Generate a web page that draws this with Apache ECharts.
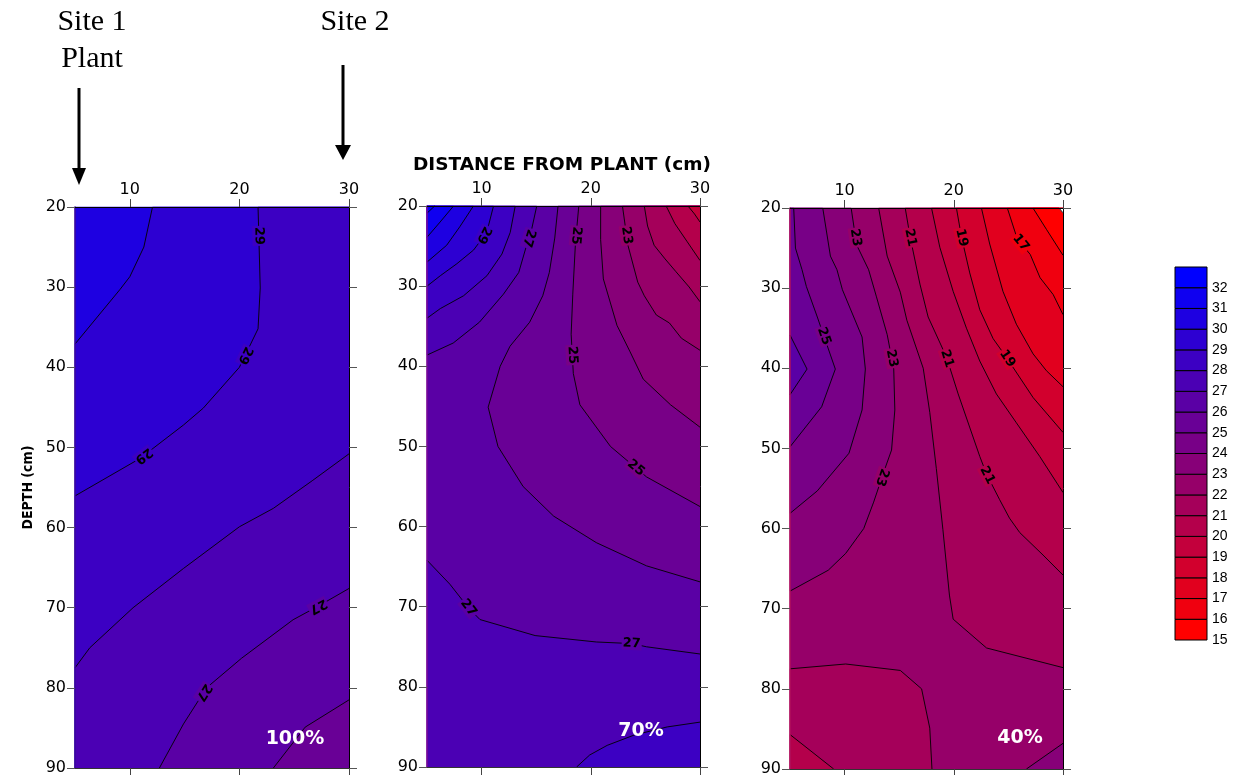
<!DOCTYPE html>
<html>
<head>
<meta charset="utf-8">
<script src="https://cdn.jsdelivr.net/npm/echarts@6/dist/echarts.min.js"></script>
<style>
  html, body { margin: 0; padding: 0; background: #fff; }
  #chart { width: 1239px; height: 775px; }
</style>
</head>
<body>
<div id="chart"></div>
<script>
// ---- axis extents and ticks ----
const DIST_RANGE = [5, 30];          // distance from plant, cm
const DEPTH_RANGE = [20, 90];        // depth, cm
const DIST_TICKS = [10, 20, 30];
const DEPTH_TICKS = [20, 30, 40, 50, 60, 70, 80, 90];
const SCALE_LEVELS = [15, 16, 17, 18, 19, 20, 21, 22, 23, 24, 25, 26, 27, 28, 29, 30, 31, 32];
const PANEL_TAGS = ['100%', '70%', '40%'];

// ---- contour polylines, [distance, depth] ----
// 100 %
const P1_C30 = [[12.07, 20], [11.28, 25], [10, 28.7], [9.1, 30.3], [5, 37.1]];
const P1_C29 = [[21.7, 20], [21.8, 25], [21.9, 30.1], [21.7, 35.2], [20.0, 40.0], [16.7, 45.1], [14.9, 47.2], [10.9, 51.4], [5, 56.05]];
const P1_C28 = [[30, 50.8], [26.7, 54.1], [23.1, 57.6], [20.0, 59.9], [14.9, 65.1], [10.3, 70.0], [6.35, 75.0], [5, 77.5]];
const P1_C27 = [[30, 67.6], [27.2, 69.8], [24.9, 71.5], [20.2, 76.3], [17.0, 80.0], [14.9, 84.5], [12.7, 90]];
const P1_C26 = [[30, 81.5], [26.0, 84.9], [23.1, 90]];
// 70 %
const P2_C32 = [[5.7, 20], [5, 20.9]];
const P2_C31 = [[7.43, 20], [6.2, 22.0], [5, 23.9]];
const P2_C30 = [[9.25, 20], [8.0, 22.6], [6.8, 24.9], [5, 27.0]];
const P2_C29 = [[11.09, 20], [10.64, 22.4], [10.03, 24.1], [9.26, 25.5], [7.74, 27.2], [6.22, 28.7], [5, 30.0]];
const P2_C28 = [[13.08, 20], [12.62, 23.3], [11.86, 26.0], [10.49, 28.7], [8.35, 31.2], [6.22, 32.8], [5, 34.0]];
const P2_C27 = [[15.05, 20], [14.6, 22.8], [14.1, 25], [13.4, 28.3], [12.0, 31], [9.8, 34.5], [7.4, 37.1], [5, 38.6]];
const P2_C26 = [[17.0, 20], [16.7, 24], [16.2, 28.3], [15.6, 31.2], [14.4, 34.5], [12.6, 37.5], [11.7, 40], [10.6, 45.1], [11.5, 50], [13.8, 55], [16.6, 58.7], [20.5, 62], [25.1, 64.9], [30, 66.9]];
const P2_C25 = [[18.9, 20], [18.6, 24.5], [18.35, 31], [18.2, 36], [18.4, 40.9], [19.0, 44.8], [21.8, 50.0], [25.1, 53.8], [30, 57.5]];
const P2_C24 = [[20.9, 20], [20.9, 24.2], [21.15, 29.1], [22.4, 34.9], [23.6, 38.2], [24.8, 41.6], [27.3, 44.8], [30, 47.6]];
const P2_C23 = [[22.9, 20], [23.4, 24.9], [24.3, 29.5], [24.9, 31.2], [26.0, 33.6], [27.2, 34.6], [28.3, 36.5], [30, 38.0]];
const P2_C22 = [[24.9, 20], [25.2, 22.5], [25.8, 24.9], [26.8, 26.6], [27.8, 28.2], [29.0, 30.1], [30, 31.95]];
const P2_C21 = [[26.9, 20], [27.7, 22.2], [28.8, 24.4], [30, 26.8]];
const P2_C20 = [[28.9, 20], [29.5, 21], [30, 22.0]];
const P2_C27B = [[5, 64.2], [7.1, 67.2], [8.8, 70.15], [9.85, 71.6], [14.9, 73.6], [20.5, 74.4], [23.75, 74.6], [25.1, 75.0], [30, 75.9]];
const P2_C28B = [[18.7, 90], [19.9, 88.5], [21.5, 87.3], [24, 86], [27, 85], [30, 84.4]];
// 40 %
const P3_C26 = [[5, 35.85], [6.56, 40.1], [5, 43.3]];
const P3_C25 = [[5.34, 20], [5.5, 25], [6.1, 27.7], [6.5, 29.8], [7.5, 33.6], [9.15, 40.1], [7.9, 44.8], [5, 49.8]];
const P3_C24 = [[8.0, 20], [8.7, 26], [9.3, 27.7], [9.8, 30.2], [11.6, 36.1], [11.9, 40.1], [11.6, 45.2], [10.4, 50.6], [7.5, 55.3], [5, 58.1]];
const P3_C23 = [[10.6, 20], [11.1, 24.6], [12.2, 27.7], [12.9, 31], [13.9, 35.8], [14.5, 40.1], [14.6, 45.2], [14.3, 50.2], [13.7, 52.5], [12.66, 56.7], [11.75, 60], [10.1, 63.1], [8.5, 65.2], [5, 67.8]];
const P3_C22 = [[13.12, 20], [13.9, 26], [15.1, 30.5], [15.7, 34], [17.2, 40], [17.8, 45.5], [18.4, 52.5], [19.0, 60.1], [19.6, 68.3], [19.94, 71.3], [23.0, 74.9], [30, 77.35]];
const P3_C21 = [[15.55, 20], [16.0, 23.6], [16.9, 29.5], [17.65, 33.6], [19.33, 38.6], [20.4, 43.2], [22.38, 51.0], [23.0, 53.2], [24.2, 56.4], [25.1, 58.7], [26.04, 60.5], [28.17, 63.3], [30, 65.8]];
const P3_C20 = [[17.96, 20], [18.72, 24.9], [19.94, 30.4], [21.16, 35.0], [22.38, 39.1], [23.9, 43.2], [25.73, 46.8], [27.87, 51.0], [30, 55.5]];
const P3_C19 = [[20.24, 20], [20.7, 23.6], [21.46, 28.1], [22.38, 32.7], [23.6, 36.3], [24.8, 38.6], [27.26, 43.65], [30, 48.0]];
const P3_C18 = [[22.53, 20], [23.29, 24.5], [24.5, 30.4], [25.73, 34.5], [27.26, 38.2], [28.48, 40.3], [30, 42.3]];
const P3_C17 = [[24.9, 20], [25.8, 23.8], [27.0, 25.8], [27.9, 28.7], [29.1, 30.8], [30, 33.3]];
const P3_C16 = [[27.25, 20], [28.5, 22.7], [30, 25.9]];
const P3_C15 = [[29.63, 20], [30, 20.6]];
const P3_C22B = [[5, 77.5], [10.1, 76.9], [15.1, 77.7], [17.05, 80.0], [17.8, 84.9], [18.0, 90]];
const P3_C21B = [[5, 85.7], [9.0, 90]];
const P3_C23B = [[30, 86.8], [26.65, 90]];

// ---- contour label anchors, [level, distance, depth] ----
const P1_LABELS = [[29, 21.76, 23.6], [29, 20.49, 38.5], [29, 11.22, 50.95], [27, 27.17, 69.8], [27, 16.78, 80.6]];
const P2_LABELS = [[29, 10.01, 23.5], [27, 14.28, 24.0], [25, 18.71, 23.7], [23, 23.14, 23.7], [25, 18.2, 38.6], [25, 24.05, 52.8], [27, 8.79, 70.15], [27, 23.75, 74.6]];
const P3_LABELS = [[23, 10.98, 23.7], [21, 16.0, 23.7], [19, 20.75, 23.7], [17, 26.1, 24.4], [25, 8.08, 36.0], [23, 14.19, 38.8], [21, 19.38, 38.8], [19, 24.88, 38.8], [23, 13.5, 53.65], [21, 23.0, 53.4]];

// Each panel: base band (lower bound) filled first, then the contour regions are
// painted on top in order. close = direction the frame is walked to close the
// region, side = whether the closed region lies above ('hi') or below ('lo') the level.
const PANELS = [
  {
    base: 30,
    contours: [
      { level: 30, pts: P1_C30, close: 'ccw', side: 'lo' },
      { level: 29, pts: P1_C29, close: 'ccw', side: 'lo' },
      { level: 28, pts: P1_C28, close: 'ccw', side: 'lo' },
      { level: 27, pts: P1_C27, close: 'ccw', side: 'lo' },
      { level: 26, pts: P1_C26, close: 'ccw', side: 'lo' }
    ],
    labels: P1_LABELS,
    leftLine: '#3a0a9a'
  },
  {
    base: 26,
    contours: [
      { level: 27, pts: P2_C27, close: 'cw', side: 'hi' },
      { level: 28, pts: P2_C28, close: 'cw', side: 'hi' },
      { level: 29, pts: P2_C29, close: 'cw', side: 'hi' },
      { level: 30, pts: P2_C30, close: 'cw', side: 'hi' },
      { level: 31, pts: P2_C31, close: 'cw', side: 'hi' },
      { level: 32, pts: P2_C32, close: 'cw', side: 'hi' },
      { level: 26, pts: P2_C26, close: 'ccw', side: 'lo' },
      { level: 25, pts: P2_C25, close: 'ccw', side: 'lo' },
      { level: 24, pts: P2_C24, close: 'ccw', side: 'lo' },
      { level: 23, pts: P2_C23, close: 'ccw', side: 'lo' },
      { level: 22, pts: P2_C22, close: 'ccw', side: 'lo' },
      { level: 21, pts: P2_C21, close: 'ccw', side: 'lo' },
      { level: 20, pts: P2_C20, close: 'ccw', side: 'lo' },
      { level: 27, pts: P2_C27B, close: 'cw', side: 'hi' },
      { level: 28, pts: P2_C28B, close: 'cw', side: 'hi' }
    ],
    labels: P2_LABELS,
    leftLine: '#7a0a96'
  },
  {
    base: 22,
    contours: [
      { level: 23, pts: P3_C23, close: 'cw', side: 'hi' },
      { level: 24, pts: P3_C24, close: 'cw', side: 'hi' },
      { level: 25, pts: P3_C25, close: 'cw', side: 'hi' },
      { level: 26, pts: P3_C26, close: 'cw', side: 'hi' },
      { level: 22, pts: P3_C22, close: 'ccw', side: 'lo' },
      { level: 21, pts: P3_C21, close: 'ccw', side: 'lo' },
      { level: 20, pts: P3_C20, close: 'ccw', side: 'lo' },
      { level: 19, pts: P3_C19, close: 'ccw', side: 'lo' },
      { level: 18, pts: P3_C18, close: 'ccw', side: 'lo' },
      { level: 17, pts: P3_C17, close: 'ccw', side: 'lo' },
      { level: 16, pts: P3_C16, close: 'ccw', side: 'lo' },
      { level: 15, pts: P3_C15, close: 'ccw', side: 'lo' },
      { level: 22, pts: P3_C22B, close: 'cw', side: 'lo' },
      { level: 21, pts: P3_C21B, close: 'cw', side: 'lo' },
      { level: 23, pts: P3_C23B, close: 'ccw', side: 'hi' }
    ],
    labels: P3_LABELS,
    leftLine: '#b0105c'
  }
];

// ---- colour scale: red (15) to blue (33), one band per unit ----
const LO = SCALE_LEVELS[0];
const NBANDS = SCALE_LEVELS.length;
function bandColor(lower) {
  const k = lower - LO;
  if (k < 0) return '#ffffff';
  const t = Math.min(k, NBANDS - 1) / (NBANDS - 1);
  const r = Math.round(255 * (1 - t));
  const b = Math.round(255 * t);
  return 'rgb(' + r + ',0,' + b + ')';
}

// Close an open contour with the frame of the plot, walking cw or ccw on screen.
function closeAlongFrame(pts, dir) {
  const x0 = DIST_RANGE[0], x1 = DIST_RANGE[1], y0 = DEPTH_RANGE[0], y1 = DEPTH_RANGE[1];
  const e = 1e-6;
  const per = (p) => {
    const x = p[0], y = p[1];
    if (Math.abs(y - y0) < e) return (x - x0) / (x1 - x0);
    if (Math.abs(x - x1) < e) return 1 + (y - y0) / (y1 - y0);
    if (Math.abs(y - y1) < e) return 2 + (x1 - x) / (x1 - x0);
    return 3 + (y1 - y) / (y1 - y0);
  };
  const corners = [[x0, y0], [x1, y0], [x1, y1], [x0, y1]];
  const tS = per(pts[0]), tE = per(pts[pts.length - 1]);
  const out = pts.slice();
  if (dir === 'cw') {
    let end = tS; if (end <= tE) end += 4;
    for (let k = Math.floor(tE) + 1; k < end; k++) out.push(corners[k % 4]);
  } else {
    let end = tS; if (end >= tE) end -= 4;
    for (let k = Math.ceil(tE) - 1; k > end; k--) out.push(corners[((k % 4) + 4) % 4]);
  }
  return out;
}

const TICK_FONT = 'DejaVu Sans';
const GRIDS = [
  { left: 75, top: 207, width: 274, height: 561 },
  { left: 427, top: 206, width: 273, height: 561 },
  { left: 790, top: 208, width: 273, height: 561 },
  { left: 1175, top: 267, width: 32, height: 373 }
];

const xAxes = [], yAxes = [], series = [];

PANELS.forEach((panel, i) => {
  const tick = { show: true, inside: false, length: 8, lineStyle: { color: '#444', width: 1 }, customValues: DIST_TICKS };
  xAxes.push({
    gridIndex: i, type: 'value', position: 'top', min: DIST_RANGE[0], max: DIST_RANGE[1], z: 5,
    axisLine: { show: true, lineStyle: { color: '#000', width: 1 } },
    axisTick: tick,
    axisLabel: { show: true, customValues: DIST_TICKS, margin: 9, color: '#000', fontFamily: TICK_FONT, fontSize: 16 },
    splitLine: { show: false }
  });
  xAxes.push({
    gridIndex: i, type: 'value', position: 'bottom', min: DIST_RANGE[0], max: DIST_RANGE[1], z: 5,
    axisLine: { show: true, lineStyle: { color: '#333', width: 1 } },
    axisTick: tick,
    axisLabel: { show: false },
    splitLine: { show: false }
  });
  const ytick = { show: true, inside: false, length: 8, lineStyle: { color: '#555', width: 1 } };
  yAxes.push(Object.assign({
    gridIndex: i, type: 'value', position: 'left', inverse: true, min: DEPTH_RANGE[0], max: DEPTH_RANGE[1], interval: 10, z: 5,
    axisLine: { show: true, lineStyle: { color: panel.leftLine, width: 1.5 } },
    axisTick: ytick,
    axisLabel: { show: true, customValues: DEPTH_TICKS, margin: 9, color: '#000', fontFamily: TICK_FONT, fontSize: 16 },
    splitLine: { show: false }
  }, i === 0 ? {
    name: 'DEPTH (cm)', nameLocation: 'middle', nameGap: 40, nameRotate: 90,
    nameTextStyle: { fontFamily: "'DejaVu Sans Condensed', 'Liberation Sans Narrow', 'Liberation Sans', sans-serif", fontWeight: 'bold', fontSize: 14, color: '#000' }
  } : {}));
  yAxes.push({
    gridIndex: i, type: 'value', position: 'right', inverse: true, min: DEPTH_RANGE[0], max: DEPTH_RANGE[1], interval: 10, z: 5,
    axisLine: { show: true, lineStyle: { color: '#000', width: 1 } },
    axisTick: ytick,
    axisLabel: { show: false },
    splitLine: { show: false }
  });

  const axisIdx = { xAxisIndex: 2 * i, yAxisIndex: 2 * i };
  const contourItems = panel.contours.map((c, k) => ({ value: [DIST_RANGE[0], DEPTH_RANGE[0], k] }));

  // filled bands (painter's order)
  series.push(Object.assign({
    type: 'custom', coordinateSystem: 'cartesian2d', silent: true, z: 2,
    data: [{ value: [DIST_RANGE[0], DEPTH_RANGE[0], -1] }].concat(contourItems),
    renderItem: (params, api) => {
      const k = params.dataIndex - 1;
      let poly, color;
      if (k < 0) {
        poly = [[DIST_RANGE[0], DEPTH_RANGE[0]], [DIST_RANGE[1], DEPTH_RANGE[0]], [DIST_RANGE[1], DEPTH_RANGE[1]], [DIST_RANGE[0], DEPTH_RANGE[1]]];
        color = bandColor(panel.base);
      } else {
        const c = panel.contours[k];
        poly = closeAlongFrame(c.pts, c.close);
        color = bandColor(c.side === 'hi' ? c.level : c.level - 1);
      }
      return {
        type: 'polygon', z2: params.dataIndex,
        shape: { points: poly.map(p => api.coord(p)) },
        style: { fill: color, stroke: color, lineWidth: 0.5 }
      };
    }
  }, axisIdx));

  // contour lines
  series.push(Object.assign({
    type: 'custom', coordinateSystem: 'cartesian2d', silent: true, z: 3,
    data: contourItems,
    renderItem: (params, api) => {
      const c = panel.contours[params.dataIndex];
      return {
        type: 'polyline',
        shape: { points: c.pts.map(p => api.coord(p)) },
        style: { stroke: '#000', lineWidth: 0.9, fill: null }
      };
    }
  }, axisIdx));

  // contour labels, oriented so the top of the text faces lower values
  series.push(Object.assign({
    type: 'custom', coordinateSystem: 'cartesian2d', silent: true, z: 4,
    data: panel.labels.map(l => ({ value: [l[1], l[2], l[0]] })),
    renderItem: (params, api) => {
      const lab = panel.labels[params.dataIndex];
      const level = lab[0];
      const a = api.coord([lab[1], lab[2]]);
      let best = null;
      panel.contours.forEach(c => {
        if (c.level !== level) return;
        const px = c.pts.map(p => api.coord(p));
        const dir = ((c.close === 'ccw') === (c.side === 'lo')) ? 1 : -1;
        for (let j = 0; j < px.length - 1; j++) {
          const p = px[j], q = px[j + 1];
          const dx = q[0] - p[0], dy = q[1] - p[1];
          const len2 = dx * dx + dy * dy || 1;
          let t = ((a[0] - p[0]) * dx + (a[1] - p[1]) * dy) / len2;
          t = Math.max(0, Math.min(1, t));
          const fx = p[0] + t * dx, fy = p[1] + t * dy;
          const d2 = (fx - a[0]) ** 2 + (fy - a[1]) ** 2;
          if (!best || d2 < best.d2) best = { d2, fx, fy, ang: Math.atan2(dir * dy, dir * dx), c };
        }
      });
      if (!best) return null;
      return {
        type: 'text', x: best.fx, y: best.fy, rotation: -best.ang,
        style: {
          text: String(level), fill: '#000', font: 'bold 13px "DejaVu Sans"',
          align: 'center', verticalAlign: 'middle',
          textAlign: 'center', textVerticalAlign: 'middle',
          backgroundColor: bandColor(level - 1), padding: [0, 1]
        }
      };
    }
  }, axisIdx));
});

// colour scale
xAxes.push({ gridIndex: 3, type: 'value', min: 0, max: 1, show: false });
yAxes.push({
  gridIndex: 3, type: 'value', position: 'right', min: LO, max: LO + NBANDS, interval: 1,
  axisLine: { show: false }, axisTick: { show: false }, splitLine: { show: false },
  axisLabel: { show: true, customValues: SCALE_LEVELS, margin: 5, color: '#000', fontFamily: 'Liberation Sans', fontSize: 14 }
});
series.push({
  type: 'custom', coordinateSystem: 'cartesian2d', xAxisIndex: 6, yAxisIndex: 6, silent: true,
  data: SCALE_LEVELS.map(v => ({ value: [0.5, v + 0.5] })),
  renderItem: (params, api) => {
    const v = SCALE_LEVELS[params.dataIndex];
    const p0 = api.coord([0, v + 1]);
    const p1 = api.coord([1, v]);
    return {
      type: 'rect',
      shape: { x: p0[0], y: p0[1], width: p1[0] - p0[0], height: p1[1] - p0[1] },
      style: { fill: bandColor(v), stroke: '#000', lineWidth: 1 }
    };
  }
});

const SERIF = "'Liberation Serif', 'Times New Roman', serif";
const arrow = (x, yTop, yHead, yTip, half) => ({
  type: 'group', silent: true, children: [
    { type: 'line', shape: { x1: x, y1: yTop, x2: x, y2: yHead + 2 }, style: { stroke: '#000', lineWidth: 3 } },
    { type: 'polygon', shape: { points: [[x - half, yHead], [x + half, yHead], [x, yTip]] }, style: { fill: '#000' } }
  ]
});
const tagText = (x, y, text) => ({
  type: 'text', x, y, silent: true, z: 20,
  style: { text, fill: '#fff', font: 'bold 19px "DejaVu Sans"', align: 'center', verticalAlign: 'middle' }
});

const chart = echarts.init(document.getElementById('chart'), null, { renderer: 'canvas' });
chart.setOption({
  backgroundColor: '#fff',
  animation: false,
  grid: GRIDS.map(g => Object.assign({ containLabel: false, outerBoundsMode: 'none', show: false }, g)),
  xAxis: xAxes,
  yAxis: yAxes,
  series,
  graphic: [
    { type: 'text', x: 92, y: 22, silent: true, style: { text: 'Site 1', fill: '#000', font: '30px ' + SERIF, align: 'center', verticalAlign: 'middle' } },
    { type: 'text', x: 92, y: 59, silent: true, style: { text: 'Plant', fill: '#000', font: '30px ' + SERIF, align: 'center', verticalAlign: 'middle' } },
    { type: 'text', x: 355, y: 22, silent: true, style: { text: 'Site 2', fill: '#000', font: '30px ' + SERIF, align: 'center', verticalAlign: 'middle' } },
    arrow(79, 88, 168, 185, 7),
    arrow(343, 65, 145, 160, 8),
    { type: 'text', x: 562, y: 165, silent: true, style: { text: 'DISTANCE FROM PLANT (cm)', fill: '#000', font: 'bold 18.5px "DejaVu Sans"', align: 'center', verticalAlign: 'middle' } },
    tagText(295, 739, PANEL_TAGS[0]),
    tagText(641, 731, PANEL_TAGS[1]),
    tagText(1020, 738, PANEL_TAGS[2])
  ]
});
</script>
</body>
</html>
